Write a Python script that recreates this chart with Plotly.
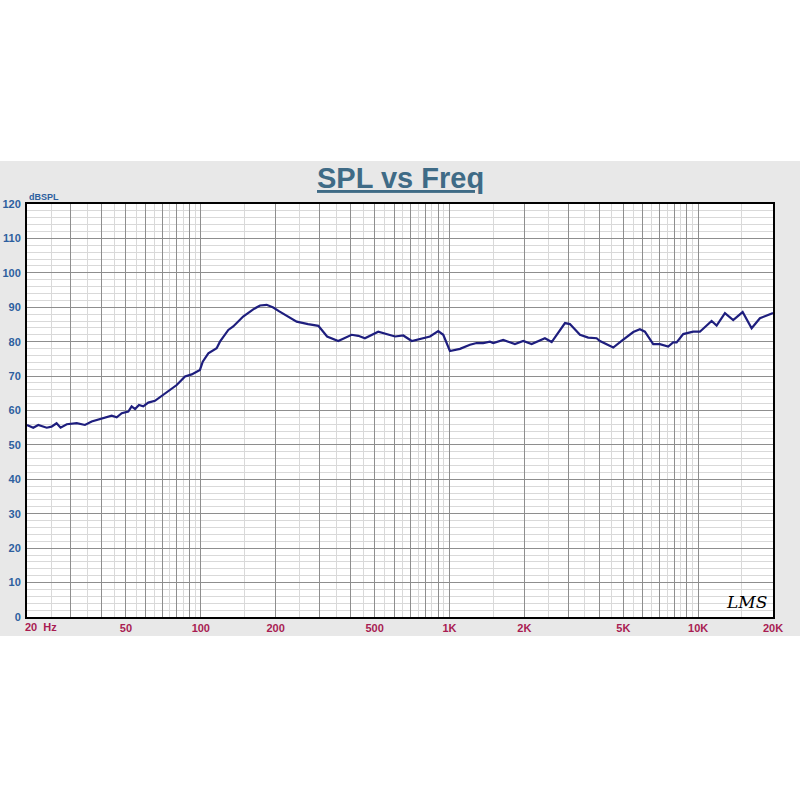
import math
import plotly.graph_objects as go

# ---- data ----
freq_hz = [20, 21.2, 22.2, 24.0, 25.1, 26.3, 27.3, 28.9, 31.7, 34.2, 36.4, 40.5, 43.8, 45.9,
           48.1, 51.1, 52.7, 54.4, 56.4, 58.7, 61.5, 65.4, 69.6, 75.2, 80.0, 86.4, 91.9, 99.2,
           101.8, 107.2, 112.2, 115.8, 119.4, 129, 135, 148, 162.5, 173, 184, 195.6, 206.8,
           243, 270, 297, 322, 341, 357, 404, 430, 457, 517, 604, 652, 705, 773, 835, 901, 944,
           1004, 1102, 1209, 1286, 1367, 1454, 1500, 1645, 1833, 1980, 2140, 2420, 2576, 2914,
           3050, 3348, 3614, 3906, 4028, 4556, 4924, 5484, 5832, 6108, 6596, 7018, 7578, 7936,
           8192, 8710, 9552, 10164, 11328, 11866, 12816, 13836, 15098, 16408, 17718, 19432, 20000]
spl_db = [55.8, 55.0, 55.8, 55.0, 55.3, 56.3, 55.0, 56.0, 56.3, 55.8, 56.8, 57.7, 58.5, 58.0,
          59.2, 59.7, 61.2, 60.4, 61.6, 61.2, 62.3, 62.8, 64.2, 66.0, 67.4, 69.9, 70.5, 71.8,
          74.2, 76.6, 77.6, 78.1, 80.0, 83.4, 84.4, 87.3, 89.4, 90.5, 90.7, 89.9, 88.8,
          85.8, 85.1, 84.6, 81.5, 80.8, 80.2, 82.0, 81.7, 81.0, 82.9, 81.5, 81.8, 80.2, 81.0, 81.5, 83.1, 82.0,
          77.3, 77.9, 79.1, 79.6, 79.6, 80.0, 79.6, 80.5, 79.3, 80.2, 79.3, 81.0, 79.9, 85.4,
          85.1, 82.0, 81.2, 81.0, 80.2, 78.3, 80.2, 82.8, 83.6, 82.9, 79.3, 79.3, 78.6, 79.8,
          79.8, 82.2, 82.9, 82.9, 86.0, 84.7, 88.3, 86.3, 88.6, 83.9, 86.8, 87.8, 88.3]

x_major_ticks = [20, 30, 40, 50, 60, 70, 80, 90, 100, 200, 300, 400, 500, 600, 700, 800, 900,
                 1000, 2000, 3000, 4000, 5000, 6000, 7000, 8000, 9000, 10000, 20000]
x_labels = {50: "50", 100: "100", 200: "200", 500: "500", 1000: "1K", 2000: "2K",
            5000: "5K", 10000: "10K", 20000: "20K"}
x_minor_ticks = [25, 35, 45, 55, 65, 75, 85, 95,
                 150, 250, 350, 450, 550, 650, 750, 850, 950,
                 1500, 2500, 3500, 4500, 5500, 6500, 7500, 8500, 9500, 15000]
y_ticks = list(range(0, 121, 10))

GRID_MAJOR = "#8e8e8e"
GRID_MINOR = "#d9d9d9"
PANEL = "#e8e8e8"
BLUE = "#2d5f9f"
CRIMSON = "#a91c52"
FONT = "Liberation Sans, Arial, sans-serif"

fig = go.Figure()
fig.add_trace(go.Scatter(x=freq_hz, y=spl_db, mode="lines",
                         line=dict(color="#1e1e7e", width=2.2), hoverinfo="skip"))

fig.update_xaxes(
    type="log", range=[math.log10(20), math.log10(20000)], automargin=False,
    tickmode="array", tickvals=x_major_ticks,
    ticktext=[x_labels.get(v, "") for v in x_major_ticks],
    showgrid=True, gridcolor=GRID_MAJOR, gridwidth=1.2,
    minor=dict(tickmode="array", tickvals=x_minor_ticks, showgrid=True,
               gridcolor=GRID_MINOR, gridwidth=1),
    showline=True, linecolor="black", linewidth=2, mirror=True,
    ticks="", zeroline=False,
    tickfont=dict(family=FONT, size=11, color=CRIMSON, weight="bold"),
)
fig.update_yaxes(
    range=[0, 120], tickmode="array", tickvals=y_ticks, automargin=False,
    showgrid=True, gridcolor=GRID_MAJOR, gridwidth=1.2,
    minor=dict(dtick=2, showgrid=True, gridcolor=GRID_MINOR, gridwidth=1),
    showline=True, linecolor="black", linewidth=2, mirror=True,
    ticks="", zeroline=False, ticklabelstandoff=2,
    tickfont=dict(family=FONT, size=11, color=BLUE, weight="bold"),
)

fig.update_layout(
    width=800, height=800, autosize=False,
    margin=dict(l=27, r=27, t=204, b=183, autoexpand=False),
    paper_bgcolor=PANEL, plot_bgcolor="white",
    showlegend=False,
    shapes=[
        dict(type="rect", xref="paper", yref="paper", x0=-0.2, x1=1.2, y0=1.104, y1=1.7,
             fillcolor="white", line=dict(width=0), layer="below"),
        dict(type="rect", xref="paper", yref="paper", x0=-0.2, x1=1.2, y0=-0.7, y1=-0.046,
             fillcolor="white", line=dict(width=0), layer="below"),
    ],
    annotations=[
        dict(text="<b><u>SPL vs Freq</u></b>", xref="paper", yref="paper", x=0.5, y=1.063,
             xanchor="center", yanchor="middle", showarrow=False,
             font=dict(family=FONT, size=29, color="#3f6b86")),
        dict(text="<b>dBSPL</b>", xref="paper", yref="paper", x=0, y=1.017,
             xanchor="left", yanchor="middle", showarrow=False,
             font=dict(family=FONT, size=9, color=BLUE)),
        dict(text="<b>20  Hz</b>", xref="paper", yref="paper", x=0, y=-0.024,
             xanchor="left", yanchor="middle", showarrow=False, xshift=-4,
             font=dict(family=FONT, size=11, color=CRIMSON)),
        dict(text="<i>LMS</i>", xref="paper", yref="paper", x=0.964, y=0.036,
             xanchor="center", yanchor="middle", showarrow=False,
             font=dict(family="DejaVu Serif, serif", size=17, color="black")),
    ],
)

fig.write_html("out.html", config={"displayModeBar": False},
               post_script="document.body.style.margin='0';document.body.style.padding='0';")
